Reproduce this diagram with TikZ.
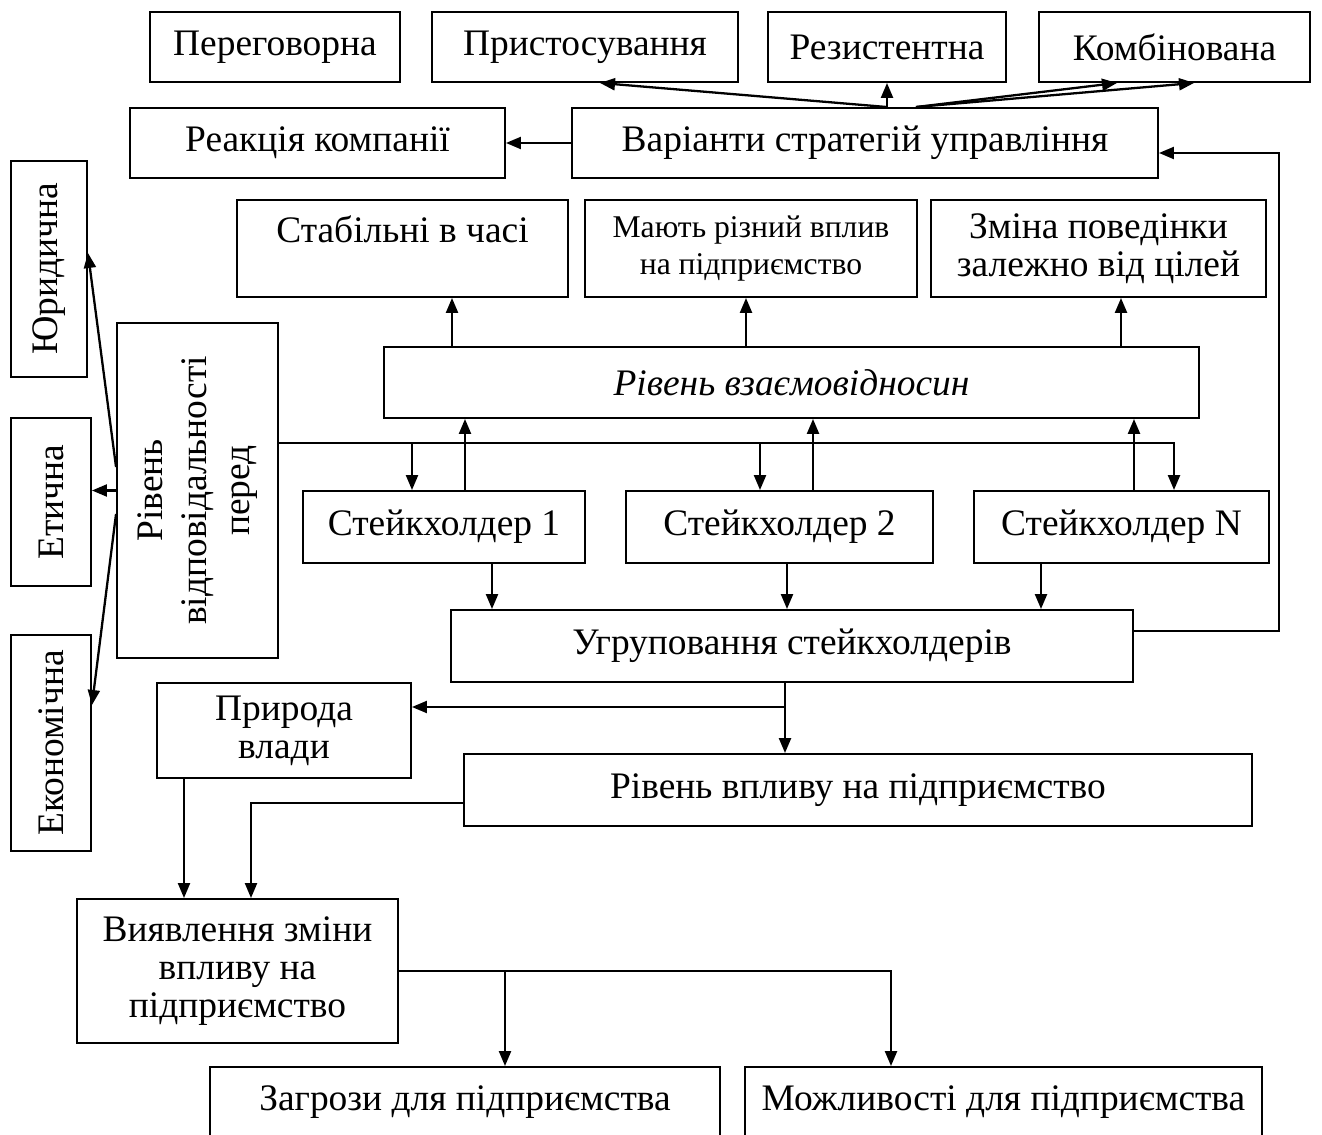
\documentclass[tikz,border=0pt]{standalone}
\usepackage{fontspec}
\setmainfont{Liberation Serif}
\usetikzlibrary{arrows.meta}

\begin{document}
\begin{tikzpicture}[>={Triangle[length=0.3cm,width=0.24cm]},
    box/.style={draw, line width=1.1pt, inner sep=2pt, align=center,
      font=\fontsize{21.3}{21.6}\selectfont},
    smallbox/.style={box, font=\fontsize{18}{21}\selectfont},
    link/.style={->, line width=1.3pt}]
  \useasboundingbox (0,0) rectangle (26.44,-22.7);
  %--- Strategy types
  \node[box, minimum width=5cm, minimum height=1.4cm] (pereg) at (5.5,-0.94) {Переговорна};
  \node[box, minimum width=6.12cm, minimum height=1.4cm] (prystos) at (11.7,-0.94) {Пристосування};
  \node[box, minimum width=4.76cm, minimum height=1.4cm] (rezyst) at (17.74,-0.94) {Резистентна};
  \node[box, minimum width=5.42cm, minimum height=1.4cm] (kombin) at (23.49,-0.94) {Комбінована};
  \node[box, minimum width=7.5cm, minimum height=1.4cm] (reakc) at (6.35,-2.86) {Реакція компанії};
  \node[box, minimum width=11.72cm, minimum height=1.4cm] (variant) at (17.3,-2.86) {Варіанти стратегій управління};
  %--- Properties of relations
  \node[box, minimum width=6.62cm, minimum height=1.94cm] (stab) at (8.05,-4.97) {Стабільні в часі\\~};
  \node[smallbox, minimum width=6.64cm, minimum height=1.94cm] (mayut) at (15.02,-4.97) {Мають різний вплив\\на підприємство};
  \node[box, minimum width=6.7cm, minimum height=1.94cm] (zmina) at (21.97,-4.97) {Зміна поведінки\\залежно від цілей};
  \node[box, minimum width=16.3cm, minimum height=1.42cm] (vzayem) at (15.83,-7.65) {\itshape Рівень взаємовідносин};
  %--- Stakeholders
  \node[box, minimum width=5.64cm, minimum height=1.44cm] (st1) at (8.88,-10.54) {Стейкхолдер 1};
  \node[box, minimum width=6.14cm, minimum height=1.44cm] (st2) at (15.59,-10.54) {Стейкхолдер 2};
  \node[box, minimum width=5.9cm, minimum height=1.44cm] (stN) at (22.43,-10.54) {Стейкхолдер N};
  \node[box, minimum width=13.64cm, minimum height=1.44cm] (ugrup) at (15.84,-12.92) {Угруповання стейкхолдерів};
  \node[box, minimum width=5.08cm, minimum height=1.9cm] (pryroda) at (5.68,-14.61) {Природа\\влади};
  \node[box, minimum width=15.76cm, minimum height=1.44cm] (vplyv) at (17.16,-15.8) {Рівень впливу на підприємство};
  \node[box, minimum width=6.42cm, minimum height=2.88cm] (vyyavl) at (4.75,-19.42) {Виявлення зміни\\впливу на\\підприємство};
  \node[box, minimum width=10.2cm, minimum height=1.4cm] (zagr) at (9.3,-22.04) {Загрози для підприємства};
  \node[box, minimum width=10.34cm, minimum height=1.4cm] (mozhl) at (20.07,-22.04) {Можливості для підприємства};
  %--- Responsibility (rotated)
  \node[box, minimum width=1.52cm, minimum height=4.32cm] (yur) at (0.98,-5.38) {\rotatebox{90}{Юридична}};
  \node[box, minimum width=1.6cm, minimum height=3.36cm] (etych) at (1.02,-10.04) {\rotatebox{90}{Етична}};
  \node[box, minimum width=1.6cm, minimum height=4.32cm] (ekon) at (1.02,-14.86) {\rotatebox{90}{Економічна}};
  \node[box, minimum width=3.22cm, minimum height=6.7cm] (rivvidp) at (3.95,-9.81)
    {\rotatebox{90}{\def\arraystretch{1.15}\begin{tabular}{@{}c@{}}Рівень\\відповідальності\\перед\end{tabular}}};

  %--- Strategy options
  \coordinate (v1) at (rezyst.south |- variant.north);
  \coordinate (v2) at ([xshift=0.58cm]v1);
  \draw[link] (v1) -- ([xshift=0.3cm]prystos.south);
  \draw[link] (v1) -- (rezyst.south);
  \draw[link] (v2) -- ([xshift=-1.15cm]kombin.south);
  \draw[link] (v2) -- ([xshift=0.39cm]kombin.south);
  \draw[link] (variant) -- (reakc);
  \draw[link] ([yshift=0.3cm]ugrup.east) -| ([xshift=2.4cm,yshift=-0.2cm]variant.east)
    -- ([yshift=-0.2cm]variant.east);
  %--- Relations level
  \foreach \n/\dx in {stab/0.99, mayut/-0.1, zmina/0.45} {
    \coordinate (t) at ([xshift=\dx cm]\n.south);
    \draw[link] (t |- vzayem.north) -- (t);
  }
  %--- Responsibility bus
  \coordinate (bus) at ([yshift=0.95cm]rivvidp.east);
  \draw[link] (bus) -| ([xshift=1.05cm]stN.north);
  \foreach \n/\dx in {st1/-0.64, st2/-0.39} {
    \coordinate (t) at ([xshift=\dx cm]\n.north);
    \draw[link] (t |- bus) -- (t);
  }
  \foreach \n/\dx in {st1/0.42, st2/0.67, stN/0.25} {
    \coordinate (t) at ([xshift=\dx cm]\n.north);
    \draw[link] (t) -- (t |- vzayem.south);
  }
  \foreach \n/\dx in {st1/0.96, st2/0.15, stN/-1.61} {
    \coordinate (t) at ([xshift=\dx cm]\n.south);
    \draw[link] (t) -- (t |- ugrup.north);
  }
  %--- Grouping and influence
  \coordinate (u1) at ([xshift=-0.14cm]ugrup.south);
  \draw[link] (u1) -- (u1 |- vplyv.north);
  \coordinate (br) at ([yshift=0.47cm]pryroda.east);
  \draw[link] (u1 |- br) -- (br);
  \coordinate (p1) at ([xshift=-2cm]pryroda.south);
  \draw[link] (p1) -- (p1 |- vyyavl.north);
  \draw[link] ([yshift=-0.26cm]vplyv.west) -| ([xshift=0.27cm]vyyavl.north);
  \draw[link] (vyyavl.east) -| ([xshift=0.8cm]zagr.north);
  \draw[link] (vyyavl.east) -| ([xshift=-2.25cm]mozhl.north);
  %--- Responsibility kinds
  \draw[link] ([yshift=0.47cm]rivvidp.west) -- ([yshift=0.32cm]yur.east);
  \draw[link] (rivvidp.west) -- (rivvidp.west -| etych.east);
  \draw[link] ([yshift=-0.47cm]rivvidp.west) -- ([yshift=0.76cm]ekon.east);
\end{tikzpicture}
\end{document}
